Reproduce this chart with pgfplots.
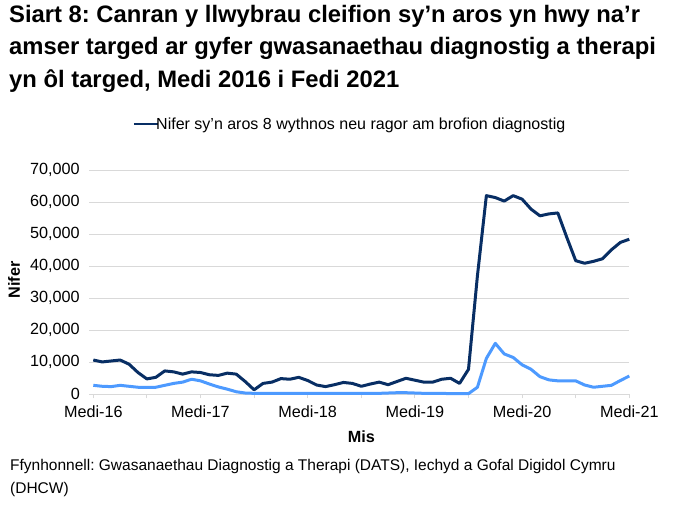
\documentclass[border=0pt]{standalone}
\usepackage{pgfplots}
\pgfplotsset{compat=1.18}
\usepackage{fontspec}
\setmainfont{Liberation Sans}
\definecolor{darknavy}{RGB}{8,46,100}
\definecolor{lightblue}{RGB}{77,154,255}
\definecolor{gridgray}{RGB}{217,217,217}

\pgfplotstableread{
m dark light
0 10700 2800
1 10100 2500
2 10400 2400
3 10700 2800
4 9400 2500
5 6800 2200
6 4800 2200
7 5300 2200
8 7300 2800
9 7000 3400
10 6300 3800
11 7000 4700
12 6800 4200
13 6100 3200
14 5900 2300
15 6600 1600
16 6300 800
17 4000 400
18 1400 300
19 3400 300
20 3800 300
21 4900 300
22 4700 300
23 5300 300
24 4300 300
25 2900 300
26 2400 300
27 3000 300
28 3700 300
29 3400 300
30 2500 300
31 3200 300
32 3800 300
33 3000 400
34 4000 500
35 5000 500
36 4400 400
37 3800 300
38 3800 300
39 4700 300
40 5000 200
41 3400 200
42 7800 200
43 37000 2200
44 62000 11200
45 61400 15900
46 60300 12600
47 62000 11500
48 60900 9200
49 57800 7800
50 55700 5500
51 56300 4500
52 56600 4200
53 49000 4200
54 41700 4200
55 40900 2900
56 41500 2200
57 42300 2500
58 45100 2800
59 47400 4300
60 48400 5700
}\datatable

\begin{document}
\frenchspacing
\begin{tikzpicture}[x=1pt,y=1pt]
\path[use as bounding box] (0,0) rectangle (673,-508);
\node[anchor=north west, align=left, font=\fontsize{23.8}{32.5}\selectfont\bfseries, inner sep=0pt]
  at (9,-5) {Siart 8: Canran y llwybrau cleifion sy’n aros yn hwy na’r\\
amser targed ar gyfer gwasanaethau diagnostig a therapi\\
yn ôl targed, Medi 2016 i Fedi 2021};
\begin{axis}[
    at={(93.3pt,-394.3pt)}, anchor=south west,
    scale only axis,
    width=536pt, height=224.3pt,
    xmin=0, xmax=60,
    ymin=0, ymax=70000,
    xtick={0,12,24,36,48,60},
    xticklabels={Medi-16,Medi-17,Medi-18,Medi-19,Medi-20,Medi-21},
    minor xtick={6,18,30,42,54},
    ytick={0,10000,20000,30000,40000,50000,60000,70000},
    scaled y ticks=false,
    /pgf/number format/fixed,
    /pgf/number format/1000 sep={,},
    /pgf/number format/assume math mode=true,
    axis x line*=bottom,
    axis y line*=left,
    y axis line style={draw=none},
    x axis line style={gridgray, line width=1pt, -},
    ymajorgrids=true,
    grid style={gridgray, line width=1pt},
    tick style={gridgray, line width=1pt},
    tick align=outside,
    major tick length=4pt,
    minor tick length=4pt,
    tick label style={font=\fontsize{16.2}{19}\selectfont, text=black},
    xticklabel style={yshift=-4pt},
    yticklabel style={xshift=-6pt},
    xlabel={\bfseries Mis},
    label style={font=\fontsize{16.2}{19}\selectfont},
    xlabel style={yshift=-6pt},
    legend style={at={(0.479,1.205)}, anchor=center, draw=none, fill=none,
                  font=\fontsize{16}{19}\selectfont, inner sep=0pt},
    legend cell align=left,
    legend image code/.code={\draw[#1, line width=2.5pt] (0pt,0pt) -- (24pt,0pt);},
    clip=false,
]
\addplot[darknavy, line width=3pt, line join=round] table[x=m, y=dark] {\datatable};
\addlegendentry{\hspace{-5pt}Nifer sy’n aros 8 wythnos neu ragor am brofion diagnostig}
\addplot[lightblue, line width=3pt, line join=round, forget plot] table[x=m, y=light] {\datatable};
\end{axis}
\node[rotate=90, anchor=center, font=\fontsize{16.2}{19}\selectfont\bfseries, inner sep=0pt]
  at (14,-280) {Nifer};
\node[anchor=north west, align=left, font=\fontsize{15.5}{23}\selectfont, inner sep=0pt]
  at (10,-459) {Ffynhonnell: Gwasanaethau Diagnostig a Therapi (DATS), Iechyd a Gofal Digidol Cymru\\(DHCW)};
\end{tikzpicture}
\end{document}
